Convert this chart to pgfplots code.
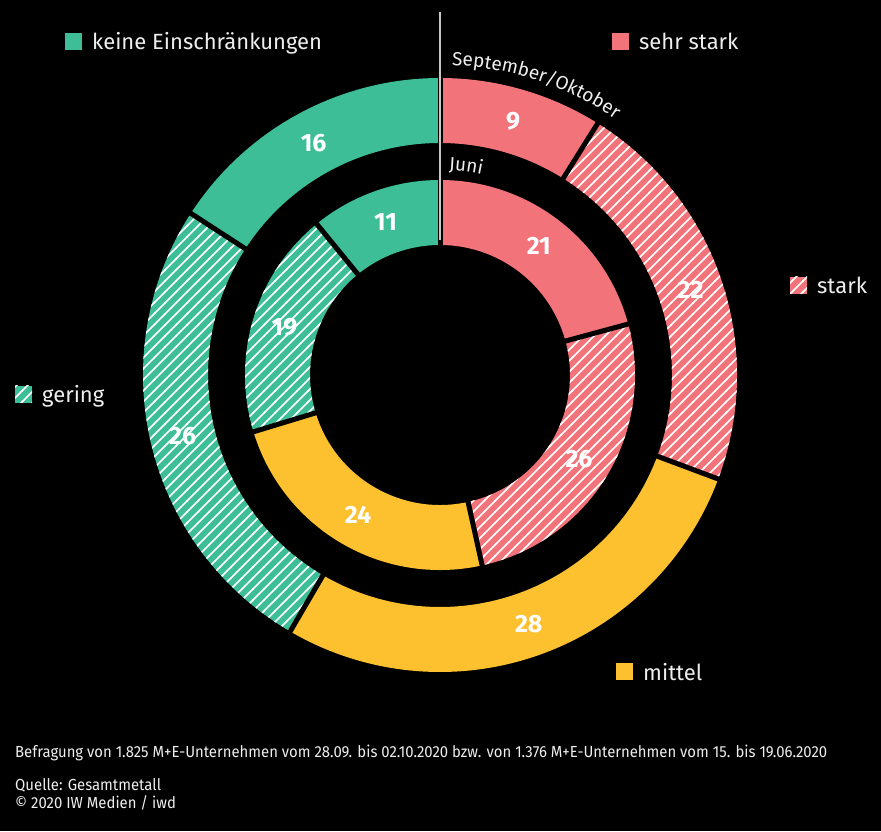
\documentclass[border=0pt]{standalone}
\usepackage{pgfplots}
\pgfplotsset{compat=1.18}
\usepackage{pgfplotstable}
\usepackage{fontspec}
\setmainfont{Fira Sans}
\newfontfamily\condfont{Fira Sans}[FakeStretch=0.93]
\usetikzlibrary{calc,patterns.meta,decorations.text}

\definecolor{cgreen}{RGB}{61,190,151}
\definecolor{cred}{RGB}{242,116,122}
\definecolor{cyellow}{RGB}{253,193,48}
\definecolor{cline}{RGB}{200,200,200}
\definecolor{ctext}{RGB}{238,238,238}

\tikzdeclarepattern{
  name=hatch, type=uncolored,
  bottom left={(-1pt,-1pt)}, top right={(12pt,12pt)},
  tile size={(11pt,11pt)},
  code={\draw[line width=1.6pt] (-1pt,-1pt) -- (12pt,12pt);}
}

% values in percent, clockwise from top: sehr stark, stark, mittel, gering, keine Einschraenkungen
\pgfplotstableread{
cat sep jun
1 9 21
2 22 26
3 28 24
4 26 19
5 16 11
}\ringdata

\newcommand\segpath[4]{($(c)+(90-#1:#4pt)$) arc[start angle=90-#1, end angle=90-#2, radius=#4pt] -- ($(c)+(90-#2:#3pt)$) arc[start angle=90-#2, end angle=90-#1, radius=#3pt] -- cycle}

\newcommand\drawring[4]{%
  \def\cum{0}%
  \pgfplotsforeachungrouped \i in {0,...,4}{%
    \pgfplotstablegetelem{\i}{#1}\of\ringdata
    \let\v\pgfplotsretval
    \pgfmathsetmacro\a{\cum/101*360}%
    \pgfmathsetmacro\cumn{\cum+\v}%
    \pgfmathsetmacro\b{\cumn/101*360}%
    \ifcase\i \def\sc{cred}\def\sh{0}\or \def\sc{cred}\def\sh{1}\or \def\sc{cyellow}\def\sh{0}\or \def\sc{cgreen}\def\sh{1}\or \def\sc{cgreen}\def\sh{0}\fi
    \fill[\sc] \segpath{\a}{\b}{#2}{#3};
    \ifnum\sh=1 \fill[pattern=hatch, pattern color=white] \segpath{\a}{\b}{#2}{#3};\fi
    \let\cum\cumn
  }%
  \def\cum{0}%
  \pgfplotsforeachungrouped \i in {0,...,4}{%
    \pgfplotstablegetelem{\i}{#1}\of\ringdata
    \let\v\pgfplotsretval
    \pgfmathsetmacro\a{\cum/101*360}%
    \pgfmathsetmacro\cumn{\cum+\v}%
    \pgfmathsetmacro\b{\cumn/101*360}%
    \pgfmathsetmacro\m{(\a+\b)/2}%
    \draw[black, line width=5pt] ($(c)+(90-\a:#2pt-3pt)$) -- ($(c)+(90-\a:#3pt+3pt)$);
    \node[text=white, font=\bfseries\fontsize{25}{25}\selectfont] at ($(c)+(90-\m:#4pt)$) {\v};
    \let\cum\cumn
  }%
}

\begin{document}
\begin{tikzpicture}
\begin{axis}[width=881pt, height=831pt, scale only axis,
  xmin=0, xmax=881, ymin=0, ymax=831, hide axis, clip=false]
\fill[black] (axis cs:0,0) rectangle (axis cs:881,831);
\addplot[draw=none] coordinates {(0,0) (881,831)};
\pgfplotsextra{
  \coordinate (c) at (axis cs:440,456);
  \drawring{sep}{232}{297}{264.5}
  \drawring{jun}{130}{195}{162.5}
  \draw[cline, line width=1.5pt] (axis cs:440,819) -- (axis cs:440,591);
  \path[decorate, decoration={text along path, text align=left,
     text={|\fontsize{19}{19}\selectfont\color{ctext}|September/Oktober}}]
     ($(c)+(87.8:310pt)$) arc[start angle=87.8, end angle=40, radius=310pt];
  \path[decorate, decoration={text along path, text align=left,
     text={|\fontsize{19}{19}\selectfont\color{ctext}|Juni}}]
     ($(c)+(87.5:205pt)$) arc[start angle=87.5, end angle=60, radius=205pt];
  % legend
  \fill[cgreen] (axis cs:65,781) rectangle (axis cs:82,798);
  \node[anchor=base west, text=ctext, font=\fontsize{22}{22}\selectfont, inner sep=0pt] at (axis cs:92,781) {keine Einschränkungen};
  \fill[cred] (axis cs:612,781) rectangle (axis cs:629,798);
  \node[anchor=base west, text=ctext, font=\fontsize{22}{22}\selectfont, inner sep=0pt] at (axis cs:639,781) {sehr stark};
  \fill[cred] (axis cs:790,537) rectangle (axis cs:807,554);
  \fill[pattern=hatch, pattern color=white] (axis cs:790,537) rectangle (axis cs:807,554);
  \node[anchor=base west, text=ctext, font=\fontsize{22}{22}\selectfont, inner sep=0pt] at (axis cs:817,537) {stark};
  \fill[cgreen] (axis cs:15,428) rectangle (axis cs:32,445);
  \fill[pattern=hatch, pattern color=white] (axis cs:15,428) rectangle (axis cs:32,445);
  \node[anchor=base west, text=ctext, font=\fontsize{22}{22}\selectfont, inner sep=0pt] at (axis cs:42,428) {gering};
  \fill[cyellow] (axis cs:616,151) rectangle (axis cs:633,168);
  \node[anchor=base west, text=ctext, font=\fontsize{22}{22}\selectfont, inner sep=0pt] at (axis cs:643,151) {mittel};
  % footnotes
  \node[anchor=base west, text=ctext, font=\condfont\fontsize{16}{16}\selectfont, inner sep=0pt] at (axis cs:15,74) {Befragung von 1.825 M+E-Unternehmen vom 28.09. bis 02.10.2020 bzw. von 1.376 M+E-Unternehmen vom 15. bis 19.06.2020};
  \node[anchor=base west, text=ctext, font=\condfont\fontsize{16}{16}\selectfont, inner sep=0pt] at (axis cs:15,41) {Quelle: Gesamtmetall};
  \node[anchor=base west, text=ctext, font=\condfont\fontsize{16}{16}\selectfont, inner sep=0pt] at (axis cs:15,23) {© 2020 IW Medien / iwd};
}
\end{axis}
\end{tikzpicture}
\end{document}
